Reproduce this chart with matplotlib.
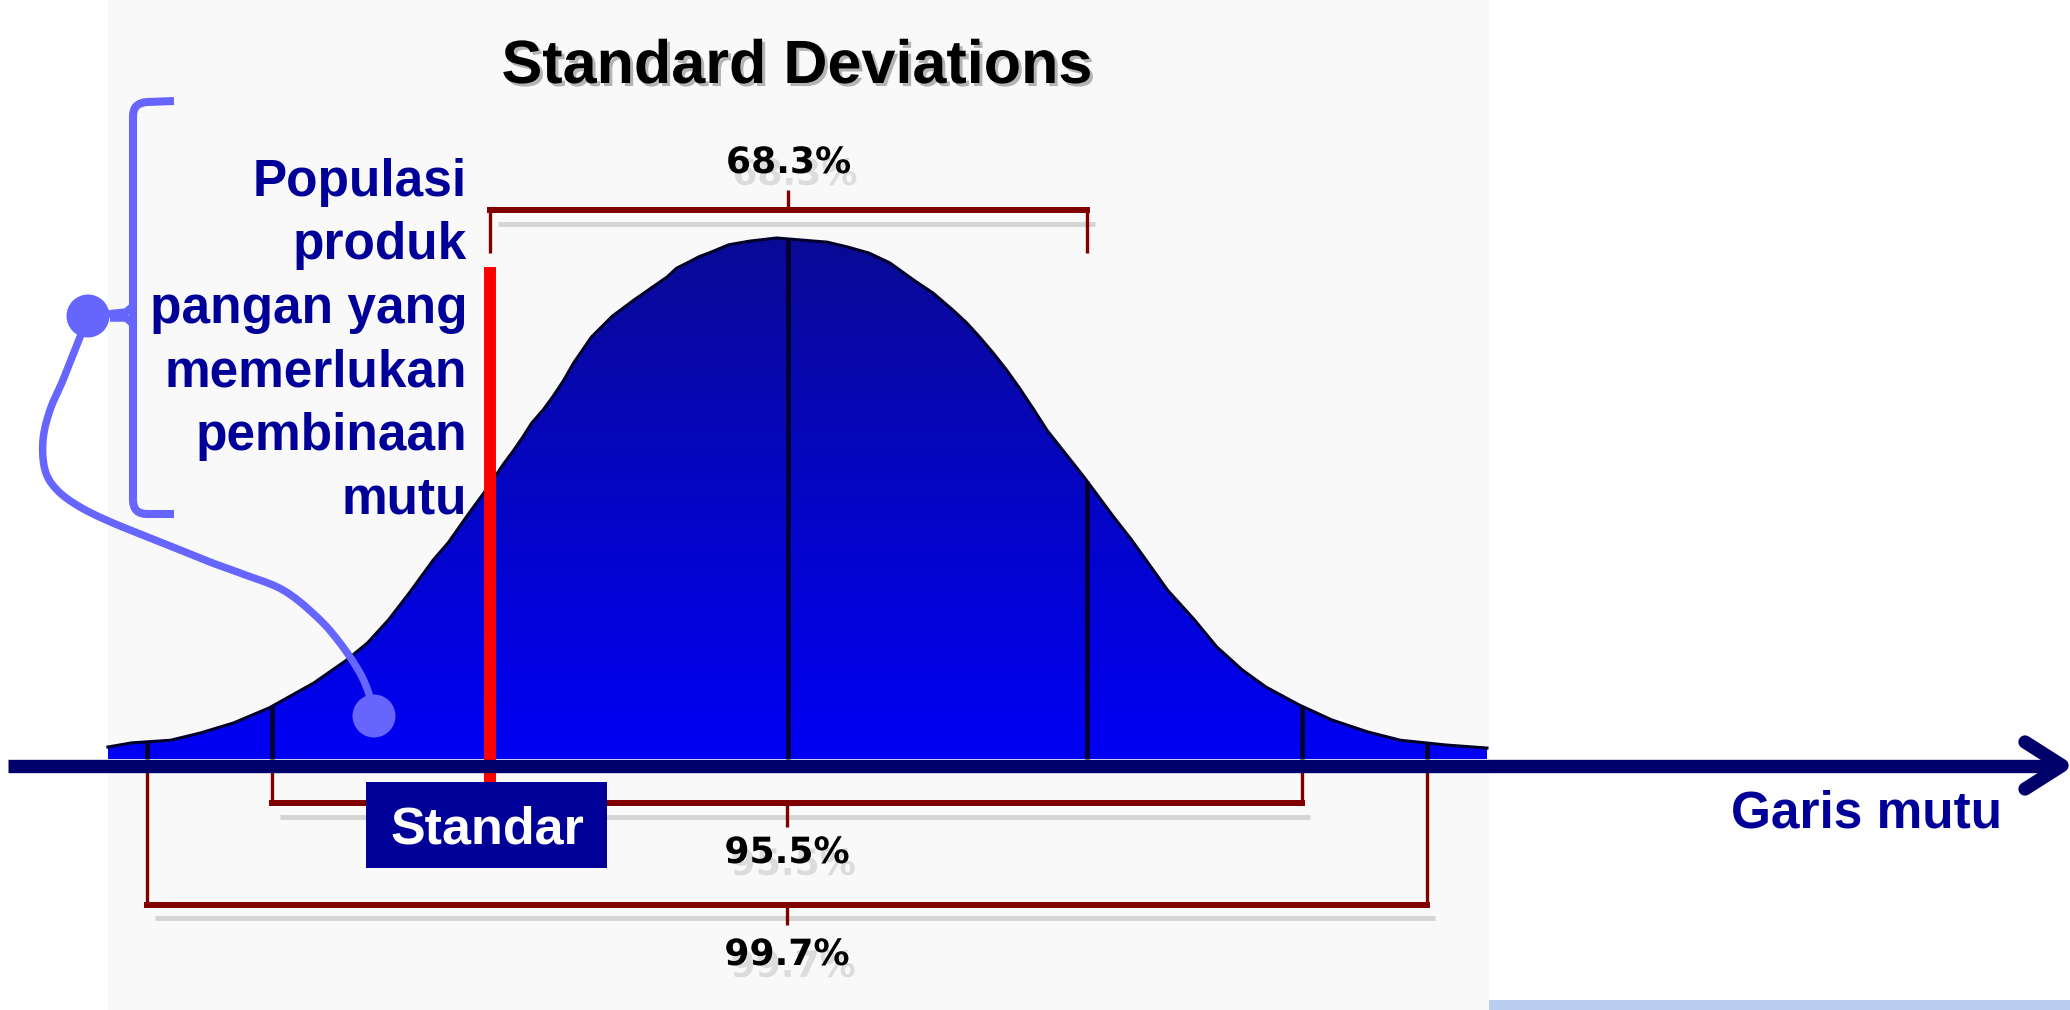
import numpy as np
import matplotlib
matplotlib.use("Agg")
import matplotlib.pyplot as plt
import matplotlib.patheffects as pe
from matplotlib.patches import Rectangle, Polygon, Circle, PathPatch
from matplotlib.path import Path
from matplotlib.transforms import blended_transform_factory, offset_copy

plt.rcParams['font.family'] = ['Liberation Sans', 'DejaVu Sans']

# curve: position in sigma units, height relative to the peak
curve_z = [-2.28, -2.20, -2.07, -1.97, -1.86, -1.74, -1.59, -1.48, -1.41, -1.34,
           -1.27, -1.19, -1.14, -1.07, -1.02, -0.956, -0.92, -0.89, -0.86, -0.822,
           -0.79, -0.755, -0.72, -0.66, -0.59, -0.52, -0.455, -0.407, -0.375, -0.34,
           -0.30, -0.263, -0.20, -0.13, -0.04, 0.13, 0.196, 0.27, 0.34, 0.42,
           0.485, 0.55, 0.597, 0.64, 0.686, 0.73, 0.776, 0.82, 0.866, 0.91,
           0.953, 0.99, 1.09, 1.15, 1.20, 1.27, 1.36, 1.435, 1.52, 1.60,
           1.71, 1.82, 1.94, 2.05, 2.20, 2.34]
curve_h = [0.023, 0.031, 0.036, 0.050, 0.069, 0.098, 0.146, 0.190, 0.223, 0.267,
           0.319, 0.382, 0.415, 0.472, 0.511, 0.565, 0.593, 0.618, 0.645, 0.670,
           0.695, 0.725, 0.760, 0.810, 0.850, 0.880, 0.906, 0.925, 0.942, 0.952,
           0.964, 0.972, 0.987, 0.994, 1.0, 0.992, 0.983, 0.971, 0.952, 0.919,
           0.894, 0.862, 0.837, 0.810, 0.779, 0.747, 0.710, 0.672, 0.631, 0.599,
           0.568, 0.541, 0.464, 0.420, 0.380, 0.324, 0.267, 0.215, 0.171, 0.138,
           0.104, 0.075, 0.052, 0.036, 0.027, 0.021]

sd_lines = [-2.15, -1.73, 0.0, 1.0, 1.72, 2.14]
standar_z = -1.0

sd_labels = ["68.3%", "95.5%", "99.7%"]
sd_lo = [-1.0, -1.73, -2.15]
sd_hi = [1.0, 1.72, 2.14]

title = "Standard Deviations"
note_lines = ["Populasi", "produk", "pangan yang", "memerlukan", "pembinaan", "mutu"]
standar_label = "Standar"
axis_label = "Garis mutu"

# layout (pixels)
W, H = 2070, 1010
CX, SX = 788.5, 298.5      # curve centre and one sigma in px
BASE, SH = 759.0, 521.0    # curve baseline and peak height in px
NAVY = '#000099'
DARKRED = '#800000'
LILAC = '#6666ff'

fig = plt.figure(figsize=(W / 100, H / 100), dpi=100)
fig.patch.set_facecolor('white')

ax_bg = fig.add_axes([0, 0, 1, 1], zorder=0)
ax = fig.add_axes([0, 0, 1, 1], zorder=1)
ax_px = fig.add_axes([0, 0, 1, 1], zorder=2)
for a in (ax_bg, ax_px):
    a.set_xlim(0, W)
    a.set_ylim(H, 0)
ax.set_xlim(-CX / SX, (W - CX) / SX)
ax.set_ylim((BASE - H) / SH, BASE / SH)
for a in (ax_bg, ax, ax_px):
    a.axis('off')
ax.patch.set_visible(False)
ax_px.patch.set_visible(False)

# picture background
ax_bg.add_patch(Rectangle((108, 0), 1381, H, color='#f9f9f9', lw=0))
ax_bg.add_patch(Rectangle((1489, 1000), W - 1489, 10, color='#b9cdf0', lw=0))

# bell curve with vertical gradient
cz = np.array(curve_z)
ch = np.array(curve_h)
verts = np.column_stack([np.r_[cz[0], cz, cz[-1]], np.r_[0, ch, 0]])
poly = Polygon(verts, closed=True, facecolor='none', edgecolor='none')
ax.add_patch(poly)
grad = np.linspace(0, 1, 256)[:, None]
top = np.array([10, 10, 150]) / 255
bot = np.array([0, 0, 245]) / 255
img = top[None, None, :] * (1 - grad[..., None]) + bot[None, None, :] * grad[..., None]
img = np.repeat(img, 2, axis=1)
im = ax.imshow(img, extent=[cz[0], cz[-1], 0, 1.0], aspect='auto', origin='upper',
               interpolation='bilinear', zorder=2)
im.set_clip_path(poly)
ax.plot(cz, ch, color='#00002a', lw=2.2, zorder=3, solid_joinstyle='round')

for z in sd_lines:
    ax.plot([z, z], [0, np.interp(z, cz, ch)], color='#00002a', lw=3.3,
            solid_capstyle='butt', zorder=3)

# brackets: x in sigma units, y in pixels
tr = blended_transform_factory(ax.transData, ax_px.transData)
tr_sh = offset_copy(tr, fig=fig, x=8, y=-13.5, units='dots')
bracket_y = [210, 803, 904.5]
bracket_end = [253, 772, 772]
bracket_tip = [190, 827, 925]
label_base = [173, 863, 965]
label_fx = [pe.withSimplePatchShadow(offset=(4.5, -8.5), shadow_rgbFace='#dcdcdc', alpha=1.0)]
for lab, lo, hi, y, e, t, lb in zip(sd_labels, sd_lo, sd_hi, bracket_y,
                                   bracket_end, bracket_tip, label_base):
    mid = (lo + hi) / 2
    ax.plot([lo, hi], [y, y], transform=tr_sh, color='#d4d4d4', lw=3.5,
            solid_capstyle='butt', zorder=4)
    ax.plot([lo, hi], [y, y], transform=tr, color=DARKRED, lw=4.3,
            solid_capstyle='projecting', zorder=5)
    for xx in (lo, hi):
        ax.plot([xx, xx], [e, y], transform=tr, color=DARKRED, lw=2.4,
                solid_capstyle='butt', zorder=5)
    ax.plot([mid, mid], [y, t], transform=tr, color=DARKRED, lw=2.4,
            solid_capstyle='butt', zorder=5)
    ax.text(mid, lb, lab, transform=tr, ha='center', va='baseline',
            fontsize=26, fontweight='bold', family='DejaVu Sans', color='black',
            zorder=6, path_effects=label_fx)

# standard (red) line
ax.plot([standar_z, standar_z], [267, 782], transform=tr, color='#ff0000', lw=8.6,
        solid_capstyle='butt', zorder=6)

# title
ax_px.text(797, 83, title, ha='center', va='baseline', fontsize=44,
           fontweight='bold', color='black',
           path_effects=[pe.withSimplePatchShadow(offset=(2.2, -2.2),
                                                  shadow_rgbFace='#b4b4b4', alpha=1.0)])

# quality axis with arrow
ax_px.plot([8, 2058], [765.5, 765.5], color='#00006b', lw=9.6, solid_capstyle='butt')
ax_px.plot([2025, 2062, 2025], [742, 765.5, 789], color='#00006b', lw=9.6,
           solid_capstyle='round', solid_joinstyle='round')
ax_px.text(2002, 828, axis_label, ha='right', va='baseline', fontsize=37,
           fontweight='bold', color=NAVY)

# "Standar" box
ax_px.add_patch(Rectangle((366, 782), 241, 86, color=NAVY, lw=0))
ax_px.text(487, 844, standar_label, ha='center', va='baseline', fontsize=37.5,
           fontweight='bold', color='white')

# annotation text
for i, line in enumerate(note_lines):
    ax_px.text(467, 196 + i * 63.4, line, ha='right', va='baseline', fontsize=37,
               fontweight='bold', color=NAVY)

# brace on the left
brace = Path([(174, 101), (147, 102), (133, 103), (133, 116), (133, 500),
              (133, 514), (147, 514), (174, 514)],
             [Path.MOVETO, Path.LINETO, Path.CURVE3, Path.CURVE3, Path.LINETO,
              Path.CURVE3, Path.CURVE3, Path.LINETO])
ax_px.add_patch(PathPatch(brace, facecolor='none', edgecolor=LILAC, lw=5.8,
                          capstyle='butt'))
ax_px.plot([88, 126, 133], [316, 312, 306], color=LILAC, lw=5.4,
           solid_capstyle='butt', solid_joinstyle='round')
ax_px.plot([110, 126, 133], [318, 318, 324], color=LILAC, lw=5.4,
           solid_capstyle='butt', solid_joinstyle='round')

# connector from the brace to the curve
cx = np.array([88, 80, 63, 50, 43, 45, 57, 80, 113, 163, 210, 240, 283, 317,
               340, 360, 370, 374], dtype=float)
cy = np.array([317, 337, 380, 410, 440, 470, 490, 507, 523, 543, 562, 573, 590,
               617, 643, 673, 697, 716], dtype=float)
pts = np.column_stack([cx, cy])
pts = np.vstack([pts[0], pts, pts[-1]])
smooth = []
for k in range(1, len(pts) - 2):
    p0, p1, p2, p3 = pts[k - 1], pts[k], pts[k + 1], pts[k + 2]
    for t in np.linspace(0, 1, 12, endpoint=False):
        smooth.append(0.5 * ((2 * p1) + (-p0 + p2) * t +
                             (2 * p0 - 5 * p1 + 4 * p2 - p3) * t ** 2 +
                             (-p0 + 3 * p1 - 3 * p2 + p3) * t ** 3))
smooth.append(pts[-2])
smooth = np.array(smooth)
ax_px.plot(smooth[:, 0], smooth[:, 1], color=LILAC, lw=5.4,
           solid_capstyle='round', solid_joinstyle='round')
ax_px.add_patch(Circle((88, 316), 21.5, color=LILAC, lw=0))
ax_px.add_patch(Circle((374, 716), 21.5, color=LILAC, lw=0))

fig.savefig('out.png', dpi=100)
